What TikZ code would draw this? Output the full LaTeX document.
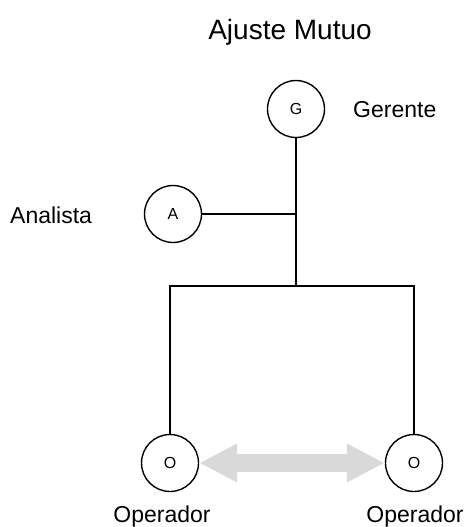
\documentclass[tikz,border=0pt]{standalone}
\usepackage{fontspec}
\setmainfont{Liberation Sans}
\usetikzlibrary{arrows.meta}
\begin{document}
\begin{tikzpicture}[x=1pt,y=-1pt,
  role/.style={draw, circle, line width=1.4pt, minimum size=57pt, inner sep=0pt, font=\fontsize{16}{18}\selectfont},
  label/.style={inner sep=0pt, font=\fontsize{23}{26}\selectfont},
  title/.style={inner sep=0pt, font=\fontsize{28}{32}\selectfont},
  link/.style={line width=1.4pt},
  mutual/.style={line width=18pt, draw=black!15, {Triangle[length=38pt,width=36pt]}-{Triangle[length=38pt,width=36pt]}}]
  \useasboundingbox (0,0) rectangle (464,527);

  % heading
  \node[title, anchor=base] (head) at (290,40) {Ajuste Mutuo};

  % positions in the structure
  \node[role] (g) at (296,109) {G};
  \node[role] (a) at (173,214) {A};
  \node[role] (o1) at (170,463) {O};
  \node[role] (o2) at (414,463) {O};

  % names beside each position
  \node[label, anchor=base west] (lg) at (353,117) {Gerente};
  \node[label, anchor=base west] (la) at (10,223) {Analista};
  \node[label, anchor=base] (lo1) at (162,522) {Operador};
  \node[label, anchor=base] (lo2) at (415,522) {Operador};

  % junction points of the tree
  \coordinate (ja) at (g.south |- a.east);
  \coordinate (jm) at (296,286);
  \coordinate (jl) at (o1.north |- jm);
  \coordinate (jr) at (o2.north |- jm);

  % hierarchy lines
  \draw[link] (g.south) -- (jm);
  \draw[link] (a.east) -- (ja);
  \draw[link] (o1.north) -- (jl) -- (jr) -- (o2.north);

  % mutual adjustment between operators
  \draw[mutual] (o1.east) -- (o2.west);
\end{tikzpicture}
\end{document}
